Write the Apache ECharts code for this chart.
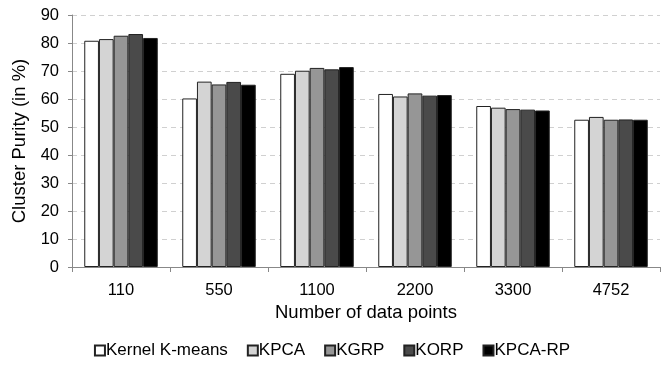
<!DOCTYPE html>
<html>
<head>
<meta charset="utf-8">
<script src="https://cdn.jsdelivr.net/npm/echarts@6/dist/echarts.min.js"></script>
<style>
html,body{margin:0;padding:0;background:#fff;}
#main{width:664px;height:371px;}
</style>
</head>
<body>
<div id="main"></div>
<script>
var categories = ['110', '550', '1100', '2200', '3300', '4752'];
var seriesNames = ['Kernel K-means', 'KPCA', 'KGRP', 'KORP', 'KPCA-RP'];
var kernelKmeans = [80.8, 60.2, 69.0, 61.8, 57.5, 52.6];
var kpca = [81.4, 66.2, 70.1, 60.9, 56.9, 53.6];
var kgrp = [82.6, 65.2, 71.1, 62.0, 56.4, 52.6];
var korp = [83.2, 66.1, 70.6, 61.2, 56.2, 52.7];
var kpcaRp = [81.8, 65.1, 71.4, 61.4, 55.9, 52.6];
var yTicks = [0, 10, 20, 30, 40, 50, 60, 70, 80, 90];

var colors = ['#ffffff', '#d4d4d4', '#969696', '#4a4a4a', '#000000'];
var values = [kernelKmeans, kpca, kgrp, korp, kpcaRp];

var font = 'Liberation Sans, Arial, sans-serif';

var series = [];
for (var i = 0; i < seriesNames.length; i++) {
	series.push({
		name: seriesNames[i],
		type: 'bar',
		data: values[i],
		barGap: '0%',
		barCategoryGap: '25%',
		itemStyle: {
			color: colors[i],
			borderColor: '#222',
			borderWidth: 1
		}
	});
}

var myChart = echarts.init(document.getElementById('main'));
var option = {
	animation: false,
	color: colors,
	textStyle: { fontFamily: font },
	grid: { left: 72, right: 4, top: 15, bottom: 104 },
	legend: {
		bottom: 7,
		left: 'center',
		itemWidth: 10,
		itemHeight: 10,
		itemGap: 19,
		icon: 'rect',
		textStyle: { fontSize: 17, color: '#000', fontFamily: font, padding: [0, 0, 0, -4] },
		data: seriesNames
	},
	xAxis: {
		type: 'category',
		data: categories,
		name: 'Number of data points',
		nameLocation: 'middle',
		nameGap: 35,
		nameTextStyle: { fontSize: 18.5, color: '#000' },
		axisLine: { lineStyle: { color: '#888' } },
		axisTick: { show: true, length: 5, lineStyle: { color: '#888' } },
		axisLabel: { fontSize: 16.5, color: '#000', margin: 15 }
	},
	yAxis: {
		type: 'value',
		min: 0,
		max: 90,
		interval: 10,
		name: 'Cluster Purity (in %)',
		nameLocation: 'middle',
		nameGap: 40,
		nameTextStyle: { fontSize: 18.5, color: '#000' },
		axisLine: { show: true, lineStyle: { color: '#888' } },
		axisTick: { show: true, length: 4, lineStyle: { color: '#888' } },
		axisLabel: {
			fontSize: 16.5,
			color: '#000',
			margin: 13,
			formatter: function (v) { return yTicks.indexOf(v) >= 0 ? v : ''; }
		},
		splitLine: { lineStyle: { color: '#d0d0d0', type: [5, 4] } }
	},
	series: series
};
myChart.setOption(option);
</script>
</body>
</html>
